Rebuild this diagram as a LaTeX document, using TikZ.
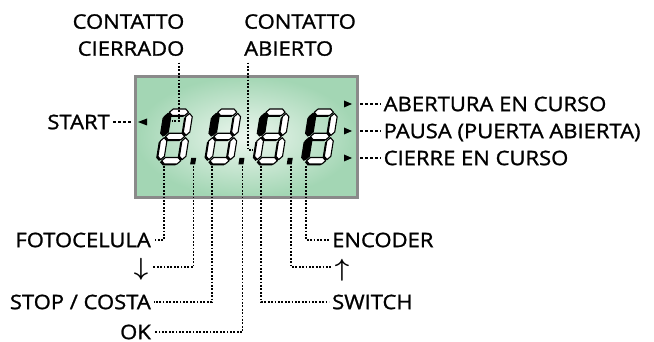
\documentclass[tikz,border=0pt]{standalone}
\usepackage{fontspec}
\setmainfont{Open Sans}[FakeStretch=1.1, FakeBold=1.2]
\usetikzlibrary{calc}
\definecolor{lcdin}{RGB}{238,247,240}
\definecolor{lcdout}{RGB}{163,214,180}
\definecolor{lcdframe}{RGB}{138,138,138}
\newcommand\labfont{\fontsize{20pt}{27pt}\selectfont}
% seven segment outlines (local coords, y downwards)
\newcommand\sgA{(4.45,3.25) -- ++(3.25,-3.25) -- ++(12.6,0) -- ++(3.25,3.25) -- ++(-3.25,3.25) -- ++(-12.6,0) -- cycle}
\newcommand\sgG{(4.45,27.5) -- ++(3.25,-3.25) -- ++(12.6,0) -- ++(3.25,3.25) -- ++(-3.25,3.25) -- ++(-12.6,0) -- cycle}
\newcommand\sgD{(4.45,51.75) -- ++(3.25,-3.25) -- ++(12.6,0) -- ++(3.25,3.25) -- ++(-3.25,3.25) -- ++(-12.6,0) -- cycle}
\newcommand\sgF{(3.25,4.45) -- ++(3.25,3.25) -- ++(0,15.35) -- ++(-3.25,3.25) -- ++(-3.25,-3.25) -- ++(0,-15.35) -- cycle}
\newcommand\sgB{(24.75,4.45) -- ++(3.25,3.25) -- ++(0,15.35) -- ++(-3.25,3.25) -- ++(-3.25,-3.25) -- ++(0,-15.35) -- cycle}
\newcommand\sgE{(3.25,28.7) -- ++(3.25,3.25) -- ++(0,15.35) -- ++(-3.25,3.25) -- ++(-3.25,-3.25) -- ++(0,-15.35) -- cycle}
\newcommand\sgC{(24.75,28.7) -- ++(3.25,3.25) -- ++(0,15.35) -- ++(-3.25,3.25) -- ++(-3.25,-3.25) -- ++(0,-15.35) -- cycle}
% #1 x, #2 y, #3 black segments, #4 1 = with decimal point
\newcommand\lcddigit[4]{%
  \begin{scope}[shift={(#1,#2)}, xslant=0.16]
    \foreach \s in {\sgA,\sgB,\sgC,\sgD,\sgE,\sgF,\sgG} {\fill[black, xshift=-1.5pt, yshift=-1.4pt] \s;}
    \foreach \s in {\sgA,\sgB,\sgC,\sgD,\sgE,\sgF,\sgG} {\filldraw[seg] \s;}
    \foreach \s in {#3} {\fill[black] \s;}
    \ifnum#4=1 \fill[black] (33.5,49) rectangle (38.5,55.5);\fi
  \end{scope}}
\begin{document}
\begin{tikzpicture}[x=1pt,y=-1pt,
  lab/.style={font=\labfont, text height=14.3pt, text depth=0pt, inner ysep=0pt, inner xsep=3pt},
  toplab/.style={font=\labfont, inner sep=0pt},
  arr/.style={font=\fontsize{30pt}{30pt}\selectfont\boldmath, text height=20pt, text depth=5pt, inner ysep=0pt, inner xsep=4pt},
  leader/.style={line width=1.7pt, dash pattern=on 1.8pt off 1.6pt},
  tick/.style={line width=1.1pt, dash pattern=on 3.2pt off 1.8pt},
  seg/.style={fill=white, draw=black, line width=1.1pt, line join=round}]
\useasboundingbox (0,0) rectangle (654,342);
% display
\node[draw=lcdframe, line width=3pt, minimum width=221.5pt, minimum height=121pt,
      inner color=lcdin, outer color=lcdout] (lcd) at (246.25,137) {};
% digits
\lcddigit{165.5}{109}{\sgF}{1}
\lcddigit{213.8}{109}{\sgF}{1}
\lcddigit{262.1}{109}{\sgF}{1}
\lcddigit{310.4}{109}{\sgF,\sgE}{0}
% indicator triangles
\fill (138,122) -- (147,118.5) -- (147,125.5) -- cycle;
\foreach \yy in {104,131,158} {\fill (344,\yy-3.5) -- (352,\yy) -- (344,\yy+3.5) -- cycle;}
% labels
\node[toplab, anchor=north east, align=right] (cc) at (184.5,14) {CONTATTO\\CIERRADO};
\node[toplab, anchor=north west, align=left] (ca) at (244,14) {CONTATTO\\ABIERTO};
\node[lab, anchor=east] (st) at (113,122) {START};
\node[lab, anchor=west] (ab) at (380.5,104) {ABERTURA EN CURSO};
\node[lab, anchor=west] (pa) at (380.5,131) {PAUSA (PUERTA ABIERTA)};
\node[lab, anchor=west] (ci) at (380.5,158) {CIERRE EN CURSO};
\node[lab, anchor=east] (foto) at (154,240) {FOTOCELULA};
\node[arr] (dn) at (141,268) {$\downarrow$};
\node[lab, anchor=east] (stop) at (154,302) {STOP / COSTA};
\node[lab, anchor=east] (ok) at (154,332) {OK};
\node[lab, anchor=west] (enc) at (329,240) {ENCODER};
\node[arr] (up) at (342,269) {$\uparrow$};
\node[lab, anchor=west] (sw) at (329,302) {SWITCH};
% short ticks
\draw[tick, shorten >=1.5pt] (st.east) -- (lcd.west |- st);
\draw[tick, shorten <=1.5pt] (lcd.east |- ab) -- (ab.west);
\draw[tick, shorten <=1.5pt] (lcd.east |- pa) -- (pa.west);
\draw[tick, shorten <=1.5pt] (lcd.east |- ci) -- (ci.west);
% top leaders
\coordinate (c1) at (179,121); \coordinate (c2) at (172,121);
\draw[leader, shorten <=6.5pt] (cc.south -| c1) -- (c1) -- (c2);
\coordinate (a1) at (248,150); \coordinate (a2) at (253,150);
\draw[leader, shorten <=6.5pt] (ca.south -| a1) -- (a1) -- (a2);
% bottom leaders
\coordinate (p1) at (164,166);
\coordinate (p2) at (193.5,166);
\coordinate (p3) at (212,166);
\coordinate (p4) at (242.5,166);
\coordinate (p5) at (261,166);
\coordinate (p6) at (291,166);
\coordinate (p7) at (306,166);
\draw[leader] (p1) |- (foto.east);
\draw[leader] (p2) |- (dn.east |- 0,267);
\draw[leader] (p3) |- (stop.east);
\draw[leader] (p4) |- (ok.east);
\draw[leader] (p5) |- (sw.west);
\draw[leader] (p6) |- (up.west |- 0,267);
\draw[leader] (p7) |- (enc.west);
\end{tikzpicture}
\end{document}
